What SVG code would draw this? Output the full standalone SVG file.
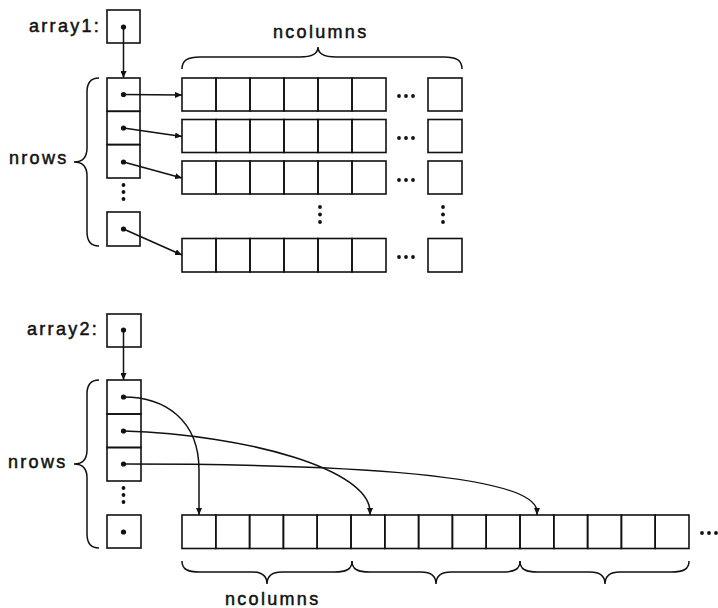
<svg xmlns="http://www.w3.org/2000/svg" width="718" height="608" viewBox="0 0 718 608">
<style>
.box{fill:none;stroke:#111;stroke-width:1.6}
.ln{fill:none;stroke:#111;stroke-width:1.5}
.br{fill:none;stroke:#111;stroke-width:1.5}
.dot{fill:#111}
.t{font-family:"Liberation Sans",Arial,sans-serif;font-size:18px;fill:#111;stroke:#111;stroke-width:0.5;letter-spacing:2.3px}
</style>
<defs>
<marker id="ah" markerUnits="userSpaceOnUse" markerWidth="7" markerHeight="6" refX="7" refY="3" orient="auto">
<path d="M0,0 L7,3 L0,6 z" fill="#111"/>
</marker>
</defs>
<rect width="718" height="608" fill="#fff"/>

<!-- ===== Top: array1 ===== -->
<g id="array1">
<text class="t" x="29" y="32">array1:</text>
<rect class="box" x="107" y="10" width="33" height="33"/>
<circle class="dot" cx="123.5" cy="27" r="2.6"/>
</g>

<g id="ptrs1">
<rect class="box" x="107" y="78" width="33" height="33.3"/>
<rect class="box" x="107" y="111.3" width="33" height="33.3"/>
<rect class="box" x="107" y="144.6" width="33" height="33.4"/>
<rect class="box" x="107" y="212" width="33" height="34"/>
<circle class="dot" cx="123.5" cy="94.5" r="2.6"/>
<circle class="dot" cx="123.5" cy="128" r="2.6"/>
<circle class="dot" cx="123.5" cy="162" r="2.6"/>
<circle class="dot" cx="123.5" cy="229" r="2.6"/>
<circle class="dot" cx="123.5" cy="185" r="1.9"/>
<circle class="dot" cx="123.5" cy="192" r="1.9"/>
<circle class="dot" cx="123.5" cy="199" r="1.9"/>
</g>

<g id="nrows1">
<path class="br" d="M99,78 C91,78 87,82 87,92 L87,148 C87,157 83,162 74,162 C83,162 87,167 87,176 L87,232 C87,242 91,246 99,246"/>
<text class="t" x="9" y="164">nrows</text>
</g>

<g id="ncolumns1">
<path class="br" d="M182,69 C182,60 188,57 200,57 L300,57 C312,57 318,54 318,47 C318,54 324,57 336,57 L444,57 C456,57 462,60 462,69"/>
<text class="t" x="273" y="38">ncolumns</text>
</g>

<g id="row1">
<rect class="box" x="182" y="78" width="34" height="33"/><rect class="box" x="216" y="78" width="34" height="33"/><rect class="box" x="250" y="78" width="34" height="33"/><rect class="box" x="284" y="78" width="34" height="33"/><rect class="box" x="318" y="78" width="34" height="33"/><rect class="box" x="352" y="78" width="34" height="33"/>
<circle class="dot" cx="399" cy="96" r="1.9"/><circle class="dot" cx="406" cy="96" r="1.9"/><circle class="dot" cx="413" cy="96" r="1.9"/>
<rect class="box" x="428" y="78" width="34" height="33"/>
</g>
<g id="row2">
<rect class="box" x="182" y="119.5" width="34" height="33"/><rect class="box" x="216" y="119.5" width="34" height="33"/><rect class="box" x="250" y="119.5" width="34" height="33"/><rect class="box" x="284" y="119.5" width="34" height="33"/><rect class="box" x="318" y="119.5" width="34" height="33"/><rect class="box" x="352" y="119.5" width="34" height="33"/>
<circle class="dot" cx="399" cy="138" r="1.9"/><circle class="dot" cx="406" cy="138" r="1.9"/><circle class="dot" cx="413" cy="138" r="1.9"/>
<rect class="box" x="428" y="119.5" width="34" height="33"/>
</g>
<g id="row3">
<rect class="box" x="182" y="161" width="34" height="33"/><rect class="box" x="216" y="161" width="34" height="33"/><rect class="box" x="250" y="161" width="34" height="33"/><rect class="box" x="284" y="161" width="34" height="33"/><rect class="box" x="318" y="161" width="34" height="33"/><rect class="box" x="352" y="161" width="34" height="33"/>
<circle class="dot" cx="399" cy="180" r="1.9"/><circle class="dot" cx="406" cy="180" r="1.9"/><circle class="dot" cx="413" cy="180" r="1.9"/>
<rect class="box" x="428" y="161" width="34" height="33"/>
</g>
<g id="vdots1">
<circle class="dot" cx="320" cy="207" r="1.9"/><circle class="dot" cx="320" cy="214.5" r="1.9"/><circle class="dot" cx="320" cy="222" r="1.9"/>
<circle class="dot" cx="443" cy="207" r="1.9"/><circle class="dot" cx="443" cy="214.5" r="1.9"/><circle class="dot" cx="443" cy="222" r="1.9"/>
</g>
<g id="row4">
<rect class="box" x="182" y="238.5" width="34" height="33.5"/><rect class="box" x="216" y="238.5" width="34" height="33.5"/><rect class="box" x="250" y="238.5" width="34" height="33.5"/><rect class="box" x="284" y="238.5" width="34" height="33.5"/><rect class="box" x="318" y="238.5" width="34" height="33.5"/><rect class="box" x="352" y="238.5" width="34" height="33.5"/>
<circle class="dot" cx="399" cy="257" r="1.9"/><circle class="dot" cx="406" cy="257" r="1.9"/><circle class="dot" cx="413" cy="257" r="1.9"/>
<rect class="box" x="428" y="238.5" width="34" height="33.5"/>
</g>

<!-- ===== Bottom: array2 ===== -->
<g id="array2">
<text class="t" x="27" y="335">array2:</text>
<rect class="box" x="107" y="314" width="34" height="33"/>
<circle class="dot" cx="123.5" cy="330" r="2.6"/>
</g>

<g id="ptrs2">
<rect class="box" x="107" y="380" width="34" height="34"/>
<rect class="box" x="107" y="414" width="34" height="33.5"/>
<rect class="box" x="107" y="447.5" width="34" height="33.5"/>
<rect class="box" x="107" y="515" width="34" height="33"/>
<circle class="dot" cx="123.5" cy="397" r="2.6"/>
<circle class="dot" cx="123.5" cy="431" r="2.6"/>
<circle class="dot" cx="123.5" cy="464" r="2.6"/>
<circle class="dot" cx="123.5" cy="532" r="2.6"/>
<circle class="dot" cx="123.5" cy="488" r="1.9"/>
<circle class="dot" cx="123.5" cy="495" r="1.9"/>
<circle class="dot" cx="123.5" cy="502" r="1.9"/>
</g>

<g id="nrows2">
<path class="br" d="M99,380 C91,380 87,384 87,394 L87,450 C87,459 83,464 74,464 C83,464 87,469 87,478 L87,534 C87,544 91,548 99,548"/>
<text class="t" x="8" y="468">nrows</text>
</g>

<g id="bigrow">
<rect class="box" x="182" y="515" width="33.8" height="33.5"/>
<rect class="box" x="215.8" y="515" width="33.8" height="33.5"/>
<rect class="box" x="249.6" y="515" width="33.8" height="33.5"/>
<rect class="box" x="283.4" y="515" width="33.8" height="33.5"/>
<rect class="box" x="317.2" y="515" width="33.8" height="33.5"/>
<rect class="box" x="351" y="515" width="33.8" height="33.5"/>
<rect class="box" x="384.8" y="515" width="33.8" height="33.5"/>
<rect class="box" x="418.6" y="515" width="33.8" height="33.5"/>
<rect class="box" x="452.4" y="515" width="33.8" height="33.5"/>
<rect class="box" x="486.2" y="515" width="33.8" height="33.5"/>
<rect class="box" x="520" y="515" width="33.8" height="33.5"/>
<rect class="box" x="553.8" y="515" width="33.8" height="33.5"/>
<rect class="box" x="587.6" y="515" width="33.8" height="33.5"/>
<rect class="box" x="621.4" y="515" width="33.8" height="33.5"/>
<rect class="box" x="655.2" y="515" width="33.8" height="33.5"/>
<circle class="dot" cx="702" cy="533" r="1.9"/><circle class="dot" cx="709" cy="533" r="1.9"/><circle class="dot" cx="716" cy="533" r="1.9"/>
</g>

<g id="ncolumns2">
<path class="br" d="M182,561 C182,569 187,572 200,572 L252,572 C262,572 267,576 267,584 C267,576 272,572 282,572 L334,572 C347,572 352,569 352,561"/>
<path class="br" d="M352,561 C352,569 357,572 370,572 L421,572 C431,572 436,576 436,584 C436,576 441,572 451,572 L502,572 C515,572 520,569 520,561"/>
<path class="br" d="M520,561 C520,569 525,572 538,572 L590,572 C600,572 605,576 605,584 C605,576 610,572 620,572 L671,572 C684,572 689,569 689,561"/>
<text class="t" x="225" y="605">ncolumns</text>
</g>

<!-- ===== Connectors ===== -->
<g id="connectors" class="ln">
<line x1="123.5" y1="27" x2="123.5" y2="78" marker-end="url(#ah)"/>
<line x1="123.5" y1="94.5" x2="182" y2="95" marker-end="url(#ah)"/>
<line x1="123.5" y1="128" x2="182" y2="136.5" marker-end="url(#ah)"/>
<line x1="123.5" y1="162" x2="182" y2="178" marker-end="url(#ah)"/>
<line x1="123.5" y1="229" x2="182" y2="255" marker-end="url(#ah)"/>
<line x1="123.5" y1="330" x2="123.5" y2="380" marker-end="url(#ah)"/>
<path d="M123.5,397 C165,397 199,420 199,470 L199,515" marker-end="url(#ah)"/>
<path d="M123.5,431 C250,435 370,470 370,512 L370,515" marker-end="url(#ah)"/>
<path d="M123.5,464 C350,464 537,475 537,512 L537,515" marker-end="url(#ah)"/>
</g>
</svg>
